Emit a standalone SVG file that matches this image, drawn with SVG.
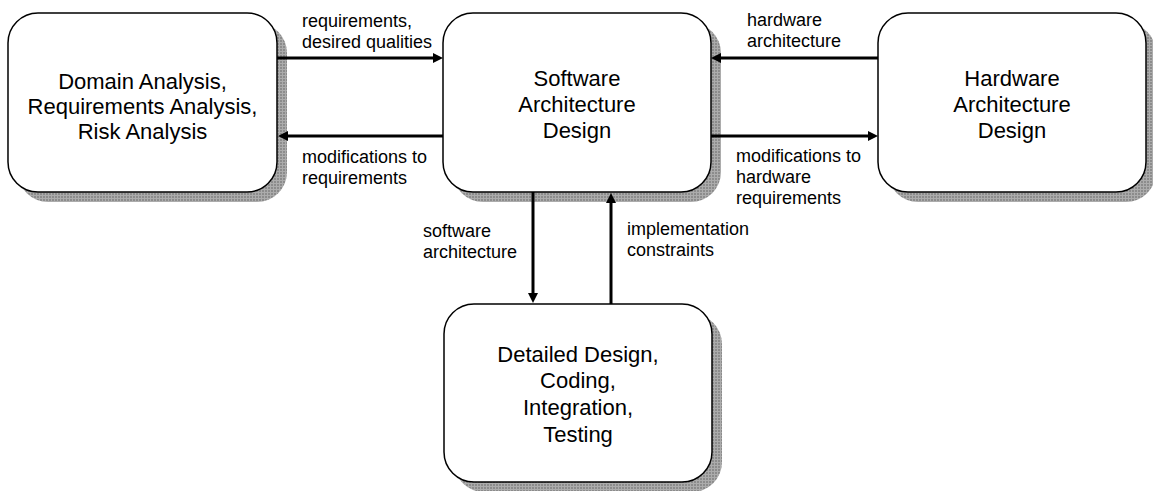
<svg xmlns="http://www.w3.org/2000/svg" width="1153" height="491" viewBox="0 0 1153 491">
  <style>
    .box { fill: #ffffff; stroke: #000000; stroke-width: 1.5; }
    .shadow { fill: url(#dither); }
    .btxt { font-family: "Liberation Sans", Arial, sans-serif; font-size: 22px; fill: #000; text-anchor: middle; }
    .ltxt { font-family: "Liberation Sans", Arial, sans-serif; font-size: 18px; fill: #000; }
    .conn { stroke: #000; stroke-width: 3; fill: none; marker-end: url(#arrow); }
  </style>
  <defs>
    <pattern id="dither" width="3" height="3" patternUnits="userSpaceOnUse">
      <rect width="3" height="3" fill="#8c8c8c"/>
      <rect width="3" height="1" fill="#acacac"/>
      <rect width="1" height="3" fill="#acacac"/>
    </pattern>
    <marker id="arrow" viewBox="0 0 10 10" refX="4" refY="5" markerWidth="10" markerHeight="10" markerUnits="userSpaceOnUse" orient="auto">
      <path d="M0,0 L10,5 L0,10 z" fill="#000"/>
    </marker>
  </defs>

  <g id="node-domain">
    <rect class="shadow" x="18" y="23" width="269" height="179" rx="30" ry="30"/>
    <rect class="box" x="8" y="13" width="269" height="179" rx="30" ry="30"/>
    <text class="btxt" x="142.5" y="89">Domain Analysis,</text>
    <text class="btxt" x="142.5" y="114">Requirements Analysis,</text>
    <text class="btxt" x="142.5" y="139">Risk Analysis</text>
  </g>

  <g id="node-software">
    <rect class="shadow" x="453" y="23" width="268" height="179" rx="30" ry="30"/>
    <rect class="box" x="443" y="13" width="268" height="179" rx="30" ry="30"/>
    <text class="btxt" x="577" y="86">Software</text>
    <text class="btxt" x="577" y="112">Architecture</text>
    <text class="btxt" x="577" y="138">Design</text>
  </g>

  <g id="node-hardware">
    <rect class="shadow" x="888" y="23" width="268" height="179" rx="30" ry="30"/>
    <rect class="box" x="878" y="13" width="268" height="179" rx="30" ry="30"/>
    <text class="btxt" x="1012" y="86">Hardware</text>
    <text class="btxt" x="1012" y="112">Architecture</text>
    <text class="btxt" x="1012" y="138">Design</text>
  </g>

  <g id="node-detailed">
    <rect class="shadow" x="454" y="314" width="268" height="178" rx="30" ry="30"/>
    <rect class="box" x="444" y="304" width="268" height="178" rx="30" ry="30"/>
    <text class="btxt" x="578" y="362">Detailed Design,</text>
    <text class="btxt" x="578" y="388">Coding,</text>
    <text class="btxt" x="578" y="415">Integration,</text>
    <text class="btxt" x="578" y="442">Testing</text>
  </g>

  <g id="connectors">
    <line class="conn" x1="277" y1="58" x2="437" y2="58"/>
    <line class="conn" x1="443" y1="136" x2="284" y2="136"/>
    <line class="conn" x1="878" y1="58" x2="717" y2="58"/>
    <line class="conn" x1="711" y1="136" x2="872" y2="136"/>
    <line class="conn" x1="533" y1="192" x2="533" y2="297"/>
    <line class="conn" x1="611" y1="304" x2="611" y2="199"/>
  </g>

  <g id="labels">
    <text class="ltxt" x="302" y="27">requirements,</text>
    <text class="ltxt" x="302" y="48">desired qualities</text>
    <text class="ltxt" x="302" y="163">modifications to</text>
    <text class="ltxt" x="302" y="184">requirements</text>
    <text class="ltxt" x="747" y="26">hardware</text>
    <text class="ltxt" x="747" y="47">architecture</text>
    <text class="ltxt" x="736" y="162">modifications to</text>
    <text class="ltxt" x="736" y="183">hardware</text>
    <text class="ltxt" x="736" y="204">requirements</text>
    <text class="ltxt" x="423" y="237">software</text>
    <text class="ltxt" x="423" y="258">architecture</text>
    <text class="ltxt" x="627" y="235">implementation</text>
    <text class="ltxt" x="627" y="256">constraints</text>
  </g>
</svg>
